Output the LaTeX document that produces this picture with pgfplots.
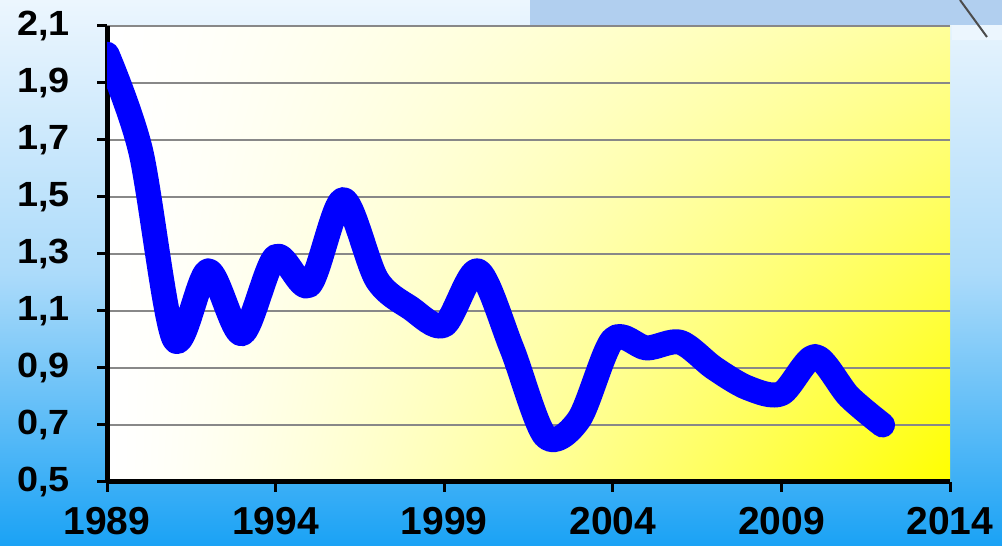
\documentclass[border=0pt]{standalone}
\usepackage{fontspec}
\setmainfont{Liberation Sans}
\newfontfamily\yfont[FakeStretch=1.08]{Liberation Sans}
\usepackage{pgfplots}
\pgfplotsset{compat=1.18}
\definecolor{bgtop}{RGB}{236,246,254}
\definecolor{bgmid}{RGB}{172,219,250}
\definecolor{bgbot}{RGB}{26,162,245}
\definecolor{band}{RGB}{177,207,239}
\definecolor{gridc}{RGB}{136,136,136}
\pgfdeclarefunctionalshading{plotbg}{\pgfpoint{0bp}{0bp}}{\pgfpoint{100bp}{100bp}}{}{
  25 sub 50 div 0.6 mul 1 exch sub
  exch 25 sub 50 div
  dup 0 lt {pop 0} if
  dup 1 gt {pop 1} if
  1.35 exp mul
  dup 1 gt {pop 1} if
  dup 0 lt {pop 0} if
  1 exch sub
  1 1 3 -1 roll
}
\begin{document}
\begin{tikzpicture}
\fill[top color=bgtop, bottom color=bgbot, middle color=bgmid] (0,0) rectangle (501pt,273pt);
\fill[band] (265pt,260.5pt) rectangle (501pt,273pt);
\fill[bgtop] (476pt,253pt) rectangle (501pt,260.5pt);
\draw[black!70, line width=1pt] (480pt,273pt) -- (493.5pt,254.5pt);
\begin{axis}[
  at={(53.5pt,32pt)}, anchor=south west,
  scale only axis, width=421.5pt, height=228.15pt,
  xmin=1989, xmax=2014, ymin=0.5, ymax=2.1,
  axis x line*=bottom, axis y line*=left,
  axis line style={black, line width=2.5pt, -},
  axis background/.style={shading=plotbg},
  xtick={1989,1994,1999,2004,2009,2014},
  xticklabels={1989,1994,1999,2004,2009,2014},
  ytick={0.5,0.7,...,2.15},
  yticklabels={{0,5},{0,7},{0,9},{1,1},{1,3},{1,5},{1,7},{1,9},{2,1}},
  tick align=outside, major tick length=5pt,
  tick style={black, line width=1.5pt},
  ymajorgrids, grid style={gridc, line width=1pt},
  xticklabel style={font=\bfseries\fontsize{19.5}{19.5}\selectfont, yshift=-4pt},
  yticklabel style={font=\yfont\bfseries\fontsize{17.5}{17.5}\selectfont, xshift=-10pt},
]
\addplot[blue, line width=12.5pt, smooth, line cap=round, line join=round] coordinates {
(1989,2.0) (1990,1.66) (1991,1.0) (1992,1.24) (1993,1.02) (1994,1.29)
(1995,1.19) (1996,1.49) (1997,1.21) (1998,1.11) (1999,1.05) (2000,1.24)
(2001,0.97) (2002,0.66) (2003,0.72) (2004,1.0) (2005,0.97) (2006,0.99)
(2007,0.90) (2008,0.83) (2009,0.81) (2010,0.94) (2011,0.80) (2012,0.70)
};
\end{axis}
\pgfresetboundingbox
\useasboundingbox (0,0) rectangle (501pt,273pt);
\end{tikzpicture}
\end{document}
